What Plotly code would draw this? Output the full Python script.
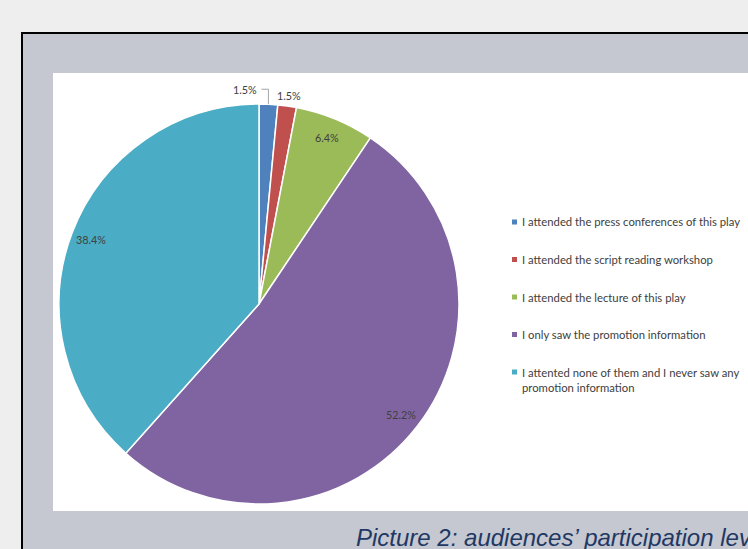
import math
import plotly.graph_objects as go

# Survey answers and their shares (percent)
labels = [
    "I attended the press conferences of this play",
    "I attended the script reading workshop",
    "I attended the lecture of this play",
    "I only saw the promotion information",
    "I attented none of them and I never saw any promotion information",
]
legend_text = [
    "I attended the press conferences of this play",
    "I attended the script reading workshop",
    "I attended the lecture of this play",
    "I only saw the promotion information",
    "I attented none of them and I never saw any<br>promotion information",
]
values = [1.5, 1.5, 6.4, 52.2, 38.4]
colors = ["#4F81BD", "#C0504D", "#9BBB59", "#8064A2", "#4BACC6"]
caption = "Picture 2: audiences\u2019 participation level"

W, H = 748, 549
CX, CY, R = 259, 304, 200  # pie centre / radius in pixels


def px(x):
    return x / W


def py(y):
    return 1 - y / H


LABEL_FONT = dict(family="Lato, Carlito, sans-serif", size=10.8, color="#404040")
LEGEND_FONT = dict(family="Lato, Carlito, sans-serif", size=11.3, color="#404040")

fig = go.Figure(
    go.Pie(
        labels=labels,
        values=values,
        marker=dict(colors=colors, line=dict(color="white", width=1.5)),
        sort=False,
        direction="clockwise",
        rotation=0,
        textinfo="none",
        hoverinfo="label+percent",
        showlegend=False,
        domain=dict(x=[px(CX - R), px(CX + R)], y=[py(CY + R), py(CY - R)]),
    )
)

shapes = [
    # framed grey panel
    dict(type="rect", xref="paper", yref="paper", x0=px(22), x1=px(W + 10),
         y0=py(H + 10), y1=py(33), fillcolor="#C5C8D0",
         line=dict(color="#000000", width=2), layer="below"),
    # white chart area
    dict(type="rect", xref="paper", yref="paper", x0=px(53), x1=px(W + 10),
         y0=py(511), y1=py(73), fillcolor="#FFFFFF", line=dict(width=0),
         layer="below"),
]
annotations = []

# Data labels placed at each slice's mid angle
total = sum(values)
cum = 0.0
for i, v in enumerate(values):
    mid = (cum + v / 2) / total * 2 * math.pi
    cum += v
    s, c = math.sin(mid), math.cos(mid)
    txt = f"{v:.1f}%"
    if i == 0:
        # small slice: label pulled to the left with an elbow leader
        ex, ey = CX + R * s, CY - R * c
        ly = ey - 15
        shapes.append(dict(type="path", xref="paper", yref="paper",
                           path=f"M {px(ex)} {py(ey)} L {px(ex)} {py(ly)} L {px(ex - 7)} {py(ly)}",
                           line=dict(color="#A6A6A6", width=1)))
        annotations.append(dict(x=px(ex - 9), y=py(ly), xref="paper", yref="paper",
                                text=txt, showarrow=False, xanchor="right",
                                yanchor="middle", font=LABEL_FONT))
    elif i == 1:
        r = R * 1.055
        annotations.append(dict(x=px(CX + r * s), y=py(CY - r * c), xref="paper",
                                yref="paper", text=txt, showarrow=False,
                                xanchor="center", yanchor="middle", font=LABEL_FONT))
    else:
        r = R * 0.9
        annotations.append(dict(x=px(CX + r * s), y=py(CY - r * c), xref="paper",
                                yref="paper", text=txt, showarrow=False,
                                xanchor="center", yanchor="middle", font=LABEL_FONT))

# Legend drawn as swatches + text
for i, (t, col) in enumerate(zip(legend_text, colors)):
    yc = 222 + i * 37.5
    shapes.append(dict(type="rect", xref="paper", yref="paper",
                       x0=px(512), x1=px(517), y0=py(yc + 2.5), y1=py(yc - 2.5),
                       fillcolor=col, line=dict(width=0)))
    annotations.append(dict(x=px(519.5), y=py(yc - 8.5), xref="paper", yref="paper",
                            text=t, showarrow=False, xanchor="left", yanchor="top",
                            align="left", font=LEGEND_FONT))

# Caption under the chart
annotations.append(dict(x=px(354), y=py(553), xref="paper", yref="paper",
                        text=f"<i>{caption}</i>", showarrow=False, xanchor="left",
                        yanchor="bottom",
                        font=dict(family="Liberation Sans, Arial, sans-serif",
                                  size=24, color="#1F3864")))

fig.update_layout(
    width=W, height=H,
    margin=dict(l=0, r=0, t=0, b=0),
    paper_bgcolor="#EEEEEE",
    shapes=shapes,
    annotations=annotations,
)

fig.write_html("out.html")
